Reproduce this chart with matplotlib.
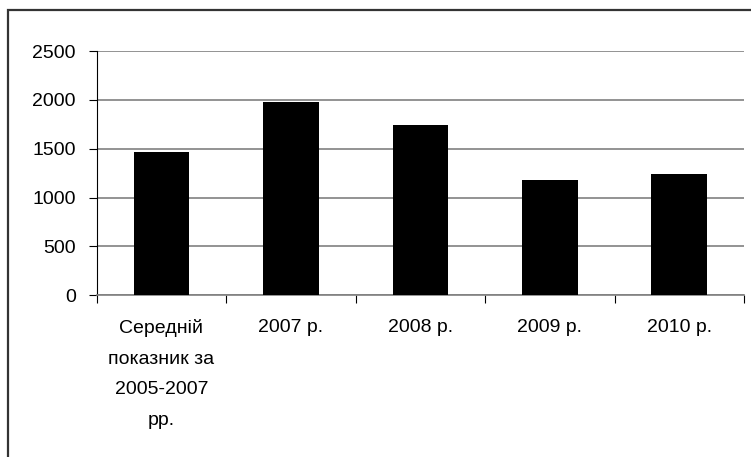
import matplotlib.pyplot as plt
from matplotlib.patches import Rectangle

categories = ["Середній\nпоказник за\n2005-2007\nрр.", "2007 р.", "2008 р.", "2009 р.", "2010 р."]
values = [1465, 1975, 1745, 1175, 1240]
yticks = [0, 500, 1000, 1500, 2000, 2500]

plt.rcParams['font.family'] = ['Liberation Sans', 'DejaVu Sans']

fig = plt.figure(figsize=(7.51, 4.57), dpi=100)
ax = fig.add_axes([0.1288, 0.3538, 0.9907 - 0.1288, 0.8884 - 0.3538])

# border of the original picture (only top and left edges are visible)
fig.patches.append(Rectangle((8 / 751, -0.1), 1.2, 1 - 10 / 457 + 0.1,
                             transform=fig.transFigure, fill=False,
                             edgecolor="#333333", linewidth=1.6))

x = list(range(len(categories)))
ax.bar(x, values, width=0.43, color="black", zorder=3)

ax.set_xlim(-0.5, len(categories) - 0.5)
ax.set_ylim(0, 2500)
ax.set_yticks(yticks)
ax.set_yticklabels([str(v) for v in yticks], fontsize=14)
ax.yaxis.grid(True, color="#808080", linewidth=1.2, zorder=0)
ax.set_axisbelow(True)

# category ticks sit between the bars, labels centred under each bar
ax.set_xticks([i - 0.5 for i in range(len(categories) + 1)])
ax.set_xticklabels([])
ax.set_xticks(x, minor=True)
ax.set_xticklabels(categories, minor=True, fontsize=14, linespacing=2.05, va="top")
ax.tick_params(axis="x", which="minor", length=0, pad=17)
ax.tick_params(axis="x", which="major", length=6, direction="out", color="black")
ax.tick_params(axis="y", length=6, direction="out", color="black", pad=9)

for s in ["top", "right"]:
    ax.spines[s].set_visible(False)
ax.spines["left"].set_color("black")
ax.spines["bottom"].set_color("#808080")
ax.spines["bottom"].set_linewidth(1.2)

fig.savefig("out.png", dpi=100)
